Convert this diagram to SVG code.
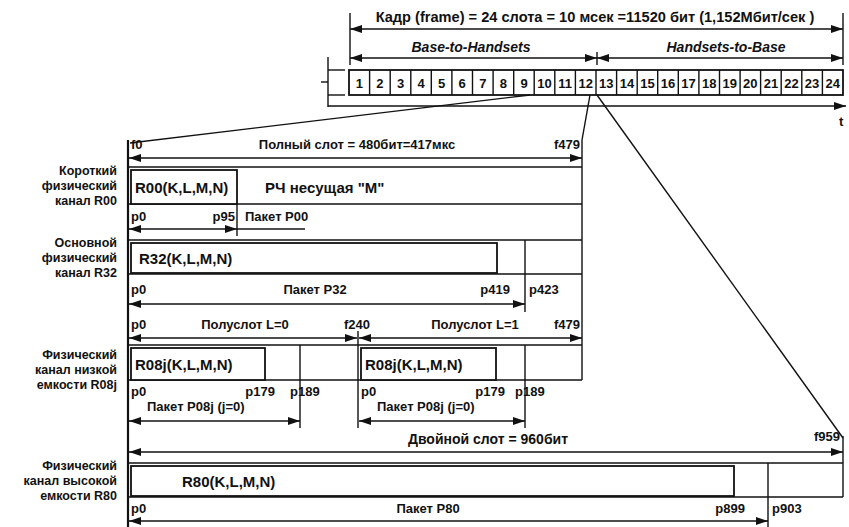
<svg xmlns="http://www.w3.org/2000/svg" width="849" height="527" viewBox="0 0 849 527">
<defs>
<marker id="ah" viewBox="0 0 12 8" refX="12" refY="4" markerWidth="12" markerHeight="8" markerUnits="userSpaceOnUse" orient="auto-start-reverse">
<path d="M0,0 L12,4 L0,8 z" fill="#111"/>
</marker>
</defs>
<style>
text{font-family:"Liberation Sans",Arial,sans-serif;font-size:13px;font-weight:bold;fill:#111}
.ln{stroke:#111;stroke-width:1.4;fill:none}
.th{stroke:#111;stroke-width:2.2;fill:none}
.bx{stroke:#111;stroke-width:1.8;fill:#fff}
.ar{stroke:#111;stroke-width:1.4;fill:none;marker-start:url(#ah);marker-end:url(#ah)}
.ae{stroke:#111;stroke-width:1.4;fill:none;marker-end:url(#ah)}
.lbl{text-anchor:end;font-size:12.5px}
.m{text-anchor:middle}
.e{text-anchor:end}
.it{font-style:italic}
.big{font-size:14px}
.ttl{font-size:14.6px}
.bl{font-size:15px}
</style>
<rect width="849" height="527" fill="#fff"/>

<g id="frame">
<line class="ln" x1="350" y1="13" x2="350" y2="65"/>
<line class="ln" x1="843" y1="13" x2="843" y2="65"/>
<line class="ln" x1="597" y1="52" x2="597" y2="65"/>
<line class="ar" x1="350" y1="29" x2="843" y2="29"/>
<line class="ar" x1="350" y1="58" x2="597" y2="58"/>
<line class="ar" x1="597" y1="58" x2="843" y2="58"/>
<text class="m ttl" x="595" y="22">Кадр (frame) = 24 слота = 10 мсек =11520 бит (1,152Мбит/сек )</text>
<text class="m it big" x="471" y="52">Base-to-Handsets</text>
<text class="m it big" x="726" y="52">Handsets-to-Base</text>
<line class="ln" x1="328" y1="57" x2="328" y2="107"/>
<line class="ln" x1="328" y1="70" x2="345" y2="70"/>
<line class="ln" x1="328" y1="95" x2="345" y2="95"/>
<line class="ln" x1="321" y1="82" x2="328" y2="82"/>
<line class="ae" x1="328" y1="106" x2="846" y2="106"/>
<text x="839" y="126">t</text>
</g>

<g id="slots">
<rect class="bx" x="349" y="70" width="494" height="25"/>
<path class="ln" d="M369.6,70v25M390.2,70v25M410.8,70v25M431.3,70v25M451.9,70v25M472.5,70v25M493.1,70v25M513.7,70v25M534.2,70v25M554.8,70v25M575.4,70v25M596,70v25M616.6,70v25M637.2,70v25M657.7,70v25M678.3,70v25M698.9,70v25M719.5,70v25M740.1,70v25M760.6,70v25M781.2,70v25M801.8,70v25M822.4,70v25"/>
<g class="m">
<text x="359.3" y="88">1</text><text x="379.9" y="88">2</text><text x="400.5" y="88">3</text><text x="421" y="88">4</text><text x="441.6" y="88">5</text><text x="462.2" y="88">6</text><text x="482.8" y="88">7</text><text x="503.4" y="88">8</text><text x="524" y="88">9</text><text x="544.5" y="88">10</text><text x="565.1" y="88">11</text><text x="585.7" y="88">12</text><text x="606.3" y="88">13</text><text x="626.9" y="88">14</text><text x="647.4" y="88">15</text><text x="668" y="88">16</text><text x="688.6" y="88">17</text><text x="709.2" y="88">18</text><text x="729.8" y="88">19</text><text x="750.3" y="88">20</text><text x="770.9" y="88">21</text><text x="791.5" y="88">22</text><text x="812.1" y="88">23</text><text x="832.7" y="88">24</text>
</g>
</g>

<g id="connectors">
<line class="ln" x1="530" y1="95" x2="130" y2="143"/>
<line class="ln" x1="590" y1="95" x2="582" y2="140"/>
<line class="ln" x1="597" y1="95" x2="843" y2="438"/>
</g>

<g id="labels">
<text class="lbl" x="117" y="175">Короткий</text>
<text class="lbl" x="117" y="190">физический</text>
<text class="lbl" x="117" y="205">канал R00</text>
<text class="lbl" x="117" y="247">Основной</text>
<text class="lbl" x="117" y="262">физический</text>
<text class="lbl" x="117" y="277">канал R32</text>
<text class="lbl" x="117" y="359">Физический</text>
<text class="lbl" x="117" y="374">канал низкой</text>
<text class="lbl" x="117" y="389">емкости R08j</text>
<text class="lbl" x="117" y="470">Физический</text>
<text class="lbl" x="117" y="485">канал высокой</text>
<text class="lbl" x="117" y="500">емкости R80</text>
</g>

<g id="slot-borders">
<line class="th" x1="128" y1="140" x2="128" y2="527"/>
<line class="ln" x1="582" y1="140" x2="582" y2="380"/>
</g>

<g id="r00">
<text x="131" y="149">f0</text>
<text class="m" x="357" y="149">Полный слот = 480бит=417мкс</text>
<text class="e" x="580" y="149">f479</text>
<line class="ar" x1="129" y1="158" x2="582" y2="158"/>
<line class="ln" x1="128" y1="167" x2="582" y2="167"/>
<line class="ln" x1="128" y1="204" x2="582" y2="204"/>
<rect class="bx" x="131" y="170" width="106" height="34"/>
<text class="bl" x="135" y="193">R00(K,L,M,N)</text>
<text class="bl" x="265" y="193">РЧ несущая "М"</text>
<line class="ln" x1="237" y1="204" x2="237" y2="236"/>
<text x="131" y="221">p0</text>
<text class="e" x="235" y="221">p95</text>
<text x="245" y="221">Пакет P00</text>
<line class="ar" x1="129" y1="229" x2="237" y2="229"/>
<line class="ln" x1="237" y1="229" x2="305" y2="229"/>
<line class="ln" x1="128" y1="240" x2="582" y2="240"/>
</g>

<g id="r32">
<rect class="bx" x="131" y="243" width="366" height="30"/>
<line class="ln" x1="128" y1="274" x2="582" y2="274"/>
<text class="bl" x="139" y="264">R32(K,L,M,N)</text>
<line class="ln" x1="525" y1="240" x2="525" y2="312"/>
<text x="131" y="294">p0</text>
<text class="m" x="315" y="294">Пакет P32</text>
<text class="e" x="510" y="294">p419</text>
<text x="529" y="294">p423</text>
<line class="ar" x1="129" y1="304" x2="525" y2="304"/>
</g>

<g id="halfslots">
<text x="131" y="329">p0</text>
<text class="m" x="245" y="329">Полуслот L=0</text>
<text class="m" x="357" y="329">f240</text>
<text class="m" x="475" y="329">Полуслот L=1</text>
<text class="e" x="580" y="329">f479</text>
<line class="ar" x1="129" y1="338" x2="357" y2="338"/>
<line class="ar" x1="359" y1="338" x2="582" y2="338"/>
<line class="ln" x1="358" y1="331" x2="358" y2="345"/>
</g>

<g id="r08j">
<line class="ln" x1="128" y1="345" x2="582" y2="345"/>
<line class="ln" x1="128" y1="380" x2="582" y2="380"/>
<rect class="bx" x="131" y="348" width="134" height="32"/>
<rect class="bx" x="361" y="348" width="135" height="32"/>
<line class="ln" x1="300" y1="345" x2="300" y2="428"/>
<line class="ln" x1="358" y1="345" x2="358" y2="428"/>
<line class="ln" x1="525" y1="345" x2="525" y2="428"/>
<text class="bl" x="135" y="370">R08j(K,L,M,N)</text>
<text class="bl" x="365" y="370">R08j(K,L,M,N)</text>
<text x="131" y="396">p0</text>
<text class="e" x="275" y="396">p179</text>
<text x="290" y="396">p189</text>
<text x="147" y="411">Пакет P08j (j=0)</text>
<line class="ar" x1="129" y1="421" x2="300" y2="421"/>
<text x="361" y="396">p0</text>
<text class="e" x="505" y="396">p179</text>
<text x="515" y="396">p189</text>
<text x="377" y="411">Пакет P08j (j=0)</text>
<line class="ar" x1="359" y1="421" x2="525" y2="421"/>
</g>

<g id="r80">
<text class="m big" x="488" y="444">Двойной слот = 960бит</text>
<text class="e" x="840" y="441">f959</text>
<line class="ln" x1="843" y1="436" x2="843" y2="497"/>
<line class="ar" x1="129" y1="452" x2="843" y2="452"/>
<line class="ln" x1="128" y1="463" x2="843" y2="463"/>
<line class="ln" x1="128" y1="497" x2="843" y2="497"/>
<rect class="bx" x="131" y="466" width="603" height="30"/>
<text class="bl" x="182" y="487">R80(K,L,M,N)</text>
<line class="ln" x1="768" y1="463" x2="768" y2="527"/>
<text x="131" y="513">p0</text>
<text class="m" x="428" y="513">Пакет P80</text>
<text class="e" x="745" y="513">p899</text>
<text x="772" y="513">p903</text>
<line class="ar" x1="129" y1="521" x2="768" y2="521"/>
</g>
</svg>
